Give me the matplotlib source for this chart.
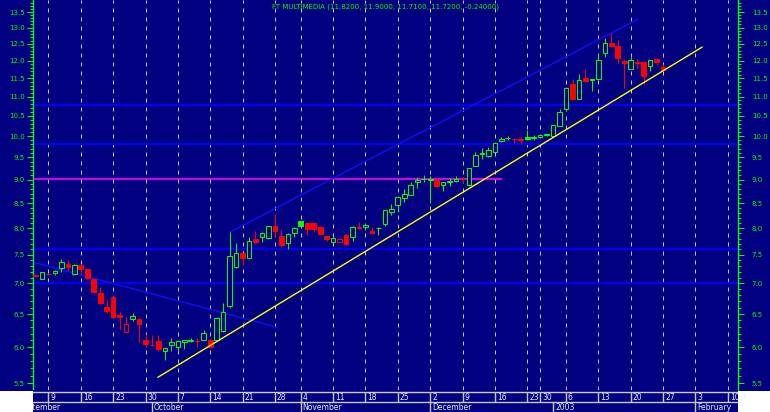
import matplotlib
matplotlib.use('Agg')
import matplotlib.pyplot as plt
from matplotlib.patches import Rectangle
import numpy as np
import pandas as pd

plt.rcParams['font.family'] = ['DejaVu Sans']

NAVY = '#000080'
GREEN = '#00FF00'
RED = '#FF0000'
GREY = '#C8C8C8'
LW = 0.72  # one pixel at 100 dpi

title = 'FT MULTIMEDIA (11.8200, 11.9000, 11.7100, 11.7200, -0.24000)'

# trading calendar (bars start on 5 Sep 2002, 3 sessions after the calendar start)
holidays = ['2002-11-01', '2002-12-25', '2002-12-26', '2002-12-27', '2003-01-01']
cal = pd.bdate_range('2002-09-02', '2003-02-14')
cal = cal[~cal.isin(pd.to_datetime(holidays))]
first_bar = 3

opens = [7.14, 7.08, 7.17, 7.18, 7.27, 7.34, 7.16, 7.31, 7.25, 7.07,
         6.84, 6.61, 6.77, 6.49, 6.23, 6.42, 6.42, 6.10, 6.04, 6.09,
         5.94, 6.03, 6.00, 6.08, 6.09, 6.10, 6.11, 6.11, 6.10, 6.24,
         6.62, 7.29, 7.53, 7.45, 7.79, 7.83, 7.81, 8.05, 7.85, 7.72,
         7.91, 8.14, 8.10, 8.10, 8.03, 7.85, 7.74, 7.74, 7.87, 7.83,
         8.03, 8.03, 7.94, 8.00, 8.08, 8.32, 8.47, 8.60, 8.68, 8.95,
         9.00, 9.00, 9.00, 8.88, 8.95, 8.96, 9.02, 8.88, 9.30, 9.58,
         9.53, 9.62, 9.88, 9.95, 9.94, 9.93, 9.97, 9.95, 9.97, 10.02,
         10.00, 10.25, 10.67, 11.34, 10.94, 11.50, 11.45, 11.47, 12.22, 12.53,
         12.43, 11.99, 11.76, 11.97, 11.97, 11.84, 12.05, 11.82]
highs = [7.15, 7.19, 7.18, 7.23, 7.42, 7.40, 7.34, 7.32, 7.25, 7.08,
         6.94, 6.73, 6.77, 6.53, 6.46, 6.52, 6.43, 6.19, 6.18, 6.18,
         6.00, 6.13, 6.10, 6.11, 6.13, 6.14, 6.25, 6.12, 6.45, 6.68,
         7.92, 7.72, 7.53, 7.83, 7.95, 7.92, 8.05, 8.28, 7.97, 7.90,
         8.02, 8.15, 8.10, 8.10, 8.03, 7.86, 7.84, 7.81, 7.88, 8.04,
         8.12, 8.10, 8.03, 8.02, 8.37, 8.48, 8.64, 8.79, 8.95, 9.05,
         9.10, 9.07, 9.04, 8.95, 9.04, 9.07, 9.05, 9.26, 9.62, 9.72,
         9.74, 9.85, 9.98, 10.00, 9.96, 9.97, 10.15, 10.02, 10.03, 10.06,
         10.28, 10.67, 11.25, 11.47, 11.62, 11.76, 11.48, 12.22, 12.67, 12.84,
         12.62, 12.05, 12.12, 12.05, 11.99, 12.03, 12.09, 11.90]
lows = [7.11, 7.07, 7.15, 7.15, 7.20, 7.22, 7.15, 7.16, 7.08, 6.84,
        6.68, 6.52, 6.46, 6.27, 6.23, 6.39, 6.07, 6.00, 6.02, 5.95,
        5.82, 5.94, 5.95, 5.97, 6.07, 6.00, 6.10, 5.98, 6.09, 6.22,
        6.60, 7.27, 7.31, 7.44, 7.72, 7.74, 7.80, 7.83, 7.65, 7.61,
        7.83, 8.04, 7.87, 7.93, 7.88, 7.76, 7.72, 7.74, 7.69, 7.76,
        7.99, 7.97, 7.89, 7.87, 8.04, 8.26, 8.32, 8.53, 8.67, 8.81,
        8.95, 8.51, 8.85, 8.75, 8.86, 8.94, 8.93, 8.87, 9.29, 9.46,
        9.51, 9.61, 9.85, 9.90, 9.84, 9.81, 9.91, 9.90, 9.97, 10.00,
        9.99, 10.24, 10.62, 10.93, 10.93, 11.41, 11.16, 11.46, 12.12, 12.42,
        11.93, 11.23, 11.75, 11.79, 11.34, 11.70, 11.88, 11.71]
closes = [7.12, 7.19, 7.16, 7.21, 7.38, 7.29, 7.31, 7.25, 7.09, 6.85,
          6.68, 6.54, 6.46, 6.45, 6.34, 6.47, 6.34, 6.04, 6.03, 5.97,
          5.99, 6.07, 6.09, 6.10, 6.11, 6.09, 6.21, 6.00, 6.43, 6.53,
          7.48, 7.53, 7.45, 7.75, 7.74, 7.91, 8.05, 7.95, 7.68, 7.89,
          8.01, 8.05, 7.99, 7.98, 7.89, 7.80, 7.81, 7.80, 7.70, 8.03,
          8.01, 8.07, 7.90, 8.01, 8.36, 8.38, 8.63, 8.70, 8.88, 9.00,
          9.01, 9.02, 8.87, 8.94, 8.97, 9.02, 9.01, 9.25, 9.55, 9.60,
          9.67, 9.83, 9.94, 9.96, 9.92, 9.91, 9.93, 9.97, 10.02, 10.04,
          10.27, 10.60, 11.23, 10.94, 11.45, 11.42, 11.47, 12.02, 12.53, 12.43,
          12.09, 11.93, 12.02, 11.93, 11.56, 12.02, 11.97, 11.72]

# drawn studies (bar index, price)
blue_levels = [10.78, 9.81, 7.61, 7.00]
magenta_level = 9.02
magenta_x = [-0.39, 72.1]
yellow_x, yellow_y = [18.93, 103.02], [5.578, 12.40]
channel_x, channel_y = [30.06, 93.1], [7.925, 13.27]
fall_x, fall_y = [-0.39, 37.17], [7.37, 6.30]

y_min, y_max = 5.408, 13.90
x_min, x_max = -0.39, 108.58

pos = np.arange(len(cal)) - first_bar
week_start = [0] + [j for j in range(1, len(cal)) if cal[j].weekday() < cal[j - 1].weekday()]
month_start = [0] + [j for j in range(1, len(cal)) if cal[j].month != cal[j - 1].month]

fig = plt.figure(figsize=(7.7, 4.12), dpi=100, facecolor=NAVY)
ax = fig.add_axes([33 / 770, 22 / 412, 705 / 770, 390 / 412])
ax.set_facecolor(NAVY)
ax.set_yscale('log')
ax.set_xlim(x_min, x_max)
ax.set_ylim(y_min, y_max)

for j in week_start:
    ax.axvline(pos[j], color=GREY, lw=LW, linestyle=(0, (4, 5)), zorder=1)

for lv in blue_levels:
    ax.axhline(lv, color='#0000FF', lw=1.4, zorder=2)
ax.hlines(magenta_level, magenta_x[0], magenta_x[1], color='#FF00FF', lw=1.2, zorder=2)
ax.plot(channel_x, channel_y, color='#1010FF', lw=1.0, zorder=2)
ax.plot(fall_x, fall_y, color='#1010FF', lw=1.0, zorder=2)

# candles
w = 0.72
for i in range(len(closes)):
    o, h, l, c = opens[i], highs[i], lows[i], closes[i]
    prev = closes[i - 1] if i > 0 else o
    col = GREEN if c >= prev else RED
    ax.vlines(i, l, h, colors=col, lw=LW, zorder=3)
    lo, hi = min(o, c), max(o, c)
    if hi - lo < 0.012:
        ax.hlines(c, i - w / 2, i + w / 2, colors=col, lw=LW, zorder=4)
    else:
        ax.add_patch(Rectangle((i - w / 2, lo), w, hi - lo, lw=LW, edgecolor=col,
                               facecolor=col if c < o else NAVY, zorder=4))

ax.plot(yellow_x, yellow_y, color='#FFFF00', lw=1.0, zorder=5)

ax.text(0.5, 1 - 7 / 390, title, transform=ax.transAxes, ha='center', va='center',
        color=GREEN, fontsize=5)

# price axes on both sides
major = np.arange(5.5, 13.51, 0.5)
minor = np.arange(5.5, 13.85, 0.1)
ax2 = ax.twinx()
ax2.set_yscale('log')
ax2.set_ylim(y_min, y_max)
for a, side in ((ax, 'left'), (ax2, 'right')):
    a.set_yticks(major)
    a.set_yticklabels(['%.1f' % v for v in major])
    a.set_yticks(minor, minor=True)
    a.yaxis.set_minor_formatter(plt.NullFormatter())
    a.tick_params(axis='y', which='major', length=4, width=LW, color=GREEN,
                  labelcolor=GREEN, labelsize=5, pad=2 if side == 'left' else 6)
    a.tick_params(axis='y', which='minor', length=2.5, width=LW, color=GREEN)
    for s in a.spines.values():
        s.set_visible(False)
    a.spines[side].set_visible(True)
    a.spines[side].set_color(GREEN)
    a.spines[side].set_linewidth(1.0)
ax.yaxis.set_ticks_position('left')
ax2.yaxis.set_ticks_position('right')
ax.set_xticks([])

# date strip
axd = fig.add_axes([33 / 770, 0, 705 / 770, 22 / 412])
axd.set_facecolor(NAVY)
axd.set_xlim(x_min, x_max)
axd.set_ylim(22, 0)
axd.set_xticks([])
axd.set_yticks([])
for s in axd.spines.values():
    s.set_visible(False)
axd.axhline(2.3, color=GREY, lw=1.0)
axd.axhline(12.3, color=GREY, lw=1.0)
axd.vlines([pos[j] for j in week_start], 2.3, 12.3, color=GREY, lw=1.0)
axd.vlines([pos[j] for j in month_start], 12.3, 22, color=GREY, lw=1.0)
for j in week_start:
    axd.text(pos[j] + 0.3, 7.6, str(cal[j].day), color='#E8E8E8', fontsize=5.5,
             ha='left', va='center', clip_on=True)
for j in month_start:
    name = str(cal[j].year) if cal[j].month == 1 else cal[j].strftime('%B')
    axd.text(pos[j] + 0.3, 17.4, name, color='#E8E8E8', fontsize=5.5,
             ha='left', va='center', clip_on=True)

# white corners outside the strip
fig.add_artist(Rectangle((0, 0), 33 / 770, 21 / 412, transform=fig.transFigure,
                         facecolor='white', edgecolor='none'))
fig.add_artist(Rectangle((738 / 770, 0), 32 / 770, 21 / 412, transform=fig.transFigure,
                         facecolor='white', edgecolor='none'))

fig.savefig('out.png', dpi=100, facecolor=NAVY)
